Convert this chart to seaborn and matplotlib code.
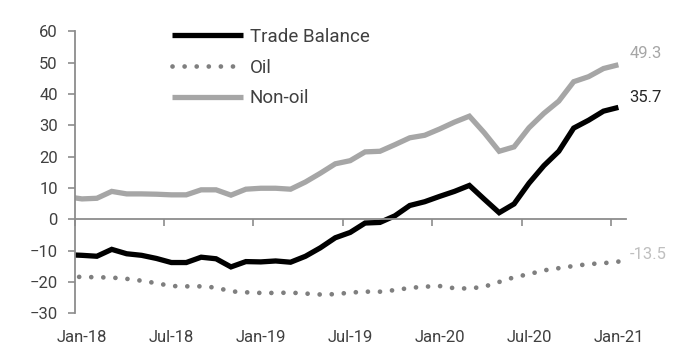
import matplotlib
matplotlib.use("Agg")
import matplotlib.pyplot as plt
import seaborn as sns
import pandas as pd

# Monthly balances, Dec-17 .. Jan-21 (Dec-17 only feeds the clipped lead-in segment)
months = pd.date_range("2017-12-01", "2021-01-01", freq="MS")

trade_balance = [
    -11.3,
    -11.5, -11.8, -9.6, -11.0, -11.5, -12.5, -13.8, -13.8, -12.1, -12.6, -15.2, -13.5,
    -13.6, -13.3, -13.7, -11.8, -9.1, -5.9, -4.2, -1.2, -1.0, 1.1, 4.4, 5.6,
    7.3, 8.9, 10.8, 6.4, 2.1, 4.9, 11.5, 17.1, 21.7, 29.1, 31.6, 34.5, 35.7,
]
oil = [
    -18.3,
    -18.4, -18.5, -18.6, -19.0, -19.6, -20.4, -21.3, -21.4, -21.4, -21.8, -23.0, -23.3,
    -23.5, -23.5, -23.4, -23.7, -24.0, -23.9, -23.4, -23.1, -23.1, -22.6, -21.9, -21.5,
    -21.3, -22.0, -22.1, -21.5, -20.0, -18.5, -17.5, -16.3, -15.6, -14.9, -14.3, -14.0, -13.5,
]
non_oil = [
    7.2,
    6.5, 6.7, 8.9, 8.1, 8.1, 8.0, 7.8, 7.8, 9.4, 9.4, 7.7, 9.6,
    9.9, 9.9, 9.6, 11.9, 14.7, 17.7, 18.7, 21.5, 21.7, 23.8, 26.0, 26.8,
    28.8, 31.0, 32.9, 27.6, 21.7, 23.1, 29.2, 33.8, 37.7, 43.9, 45.5, 48.1, 49.3,
]

tick_labels = ["Jan-18", "Jul-18", "Jan-19", "Jul-19", "Jan-20", "Jul-20", "Jan-21"]
y_ticks = [-30, -20, -10, 0, 10, 20, 30, 40, 50, 60]

# Category index: Jan-18 = 0, so Dec-17 sits at -1
pos = list(range(-1, len(months) - 1))
df = pd.DataFrame({"pos": pos, "Trade Balance": trade_balance,
                   "Oil": oil, "Non-oil": non_oil})

sns.set_theme(style="white")
plt.rcParams["font.family"] = ["Roboto", "DejaVu Sans"]

TEXT = "#404040"
AXIS = "#8c8c8c"
BLACK = "#000000"
DOTS = "#7f7f7f"
GREY = "#a6a6a6"

fig = plt.figure(figsize=(6.81, 3.51), dpi=100)
ax = fig.add_axes([0.1094, 0.1074, 0.8096, 0.8036])

sns.lineplot(data=df, x="pos", y="Trade Balance", ax=ax, color=BLACK,
             linewidth=3.8, label="Trade Balance", solid_joinstyle="miter",
             solid_capstyle="butt")
sns.lineplot(data=df, x="pos", y="Oil", ax=ax, color=DOTS, linewidth=3.4,
             linestyle=(0, (0.01, 2.55)), dash_capstyle="round", label="Oil")
sns.lineplot(data=df, x="pos", y="Non-oil", ax=ax, color=GREY,
             linewidth=3.8, label="Non-oil", solid_joinstyle="miter",
             solid_capstyle="butt")

ax.set_xlim(-0.5, len(months) - 1.5)
ax.set_ylim(-30, 60)
ax.set_xlabel("")
ax.set_ylabel("")

# Axes: y spine on the left, x spine running through zero
for side in ("top", "right"):
    ax.spines[side].set_visible(False)
ax.spines["left"].set_color(AXIS)
ax.spines["left"].set_linewidth(1.3)
ax.spines["bottom"].set_position(("data", 0))
ax.spines["bottom"].set_color(AXIS)
ax.spines["bottom"].set_linewidth(1.3)

ax.set_yticks(y_ticks)
ax.tick_params(axis="y", direction="out", length=5, width=1.2, color=AXIS,
               labelsize=12, labelcolor=TEXT, pad=7, left=True)
boundaries = [i * 6 - 0.5 for i in range(len(tick_labels))]
ax.set_xticks(boundaries)
ax.tick_params(axis="x", direction="out", length=5, width=1.2, color=AXIS,
               labelbottom=False, bottom=True)

# Month labels along the bottom edge, centred on their categories
sec = ax.secondary_xaxis("bottom")
sec.set_xticks([i * 6 for i in range(len(tick_labels))], tick_labels)
sec.spines["bottom"].set_visible(False)
sec.tick_params(length=0, labelsize=12, labelcolor=TEXT, pad=12)

# Latest values at the right-hand end of each line
last = df.iloc[-1]
for col, colr, dy in (("Non-oil", GREY, 8), ("Trade Balance", "#262626", 7),
                      ("Oil", "#bfbfbf", 5)):
    ax.annotate(f"{last[col]:.1f}", xy=(last["pos"], last[col]),
                xytext=(8, dy), textcoords="offset points", ha="left",
                va="center", fontsize=12, color=colr, annotation_clip=False)

leg = ax.legend(loc="upper left", bbox_to_anchor=(0.177, 1.012), frameon=False,
                fontsize=13.5, handlelength=3.8, handletextpad=0.35,
                labelspacing=0.68, borderpad=0, borderaxespad=0)
for t in leg.get_texts():
    t.set_color(TEXT)

fig.savefig("out.png", dpi=100)
